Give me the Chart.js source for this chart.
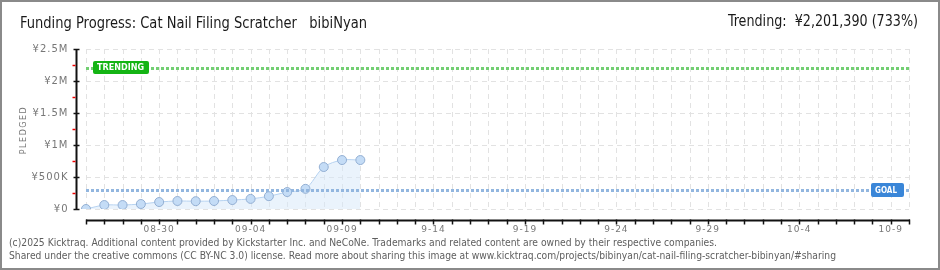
<!DOCTYPE html>
<html>
<head>
<meta charset="utf-8">
<script src="https://cdn.jsdelivr.net/npm/chart.js@4.4.1/dist/chart.umd.min.js"></script>
<style>
  html, body { margin: 0; padding: 0; background: #fff; }
  #wrap { position: relative; width: 940px; height: 270px; overflow: hidden; background: #fff; }
  #frame { position: absolute; left: 0; top: 0; width: 936px; height: 266px; border: 2px solid #8a8a8a; pointer-events: none; }
  canvas { position: absolute; left: 0; top: 0; }
  .txt { position: absolute; white-space: nowrap; transform-origin: left top; }
  #title { left: 20px; top: 13px; font: 16px "Liberation Sans Narrow", "DejaVu Sans Condensed", sans-serif; color: #1a1a1a; }
  #trend { left: 728px; top: 11px; font: 16px "Liberation Sans Narrow", "DejaVu Sans Condensed", sans-serif; color: #1a1a1a; }
  .foot { left: 9px; font: 10px "DejaVu Sans", sans-serif; color: #5e5e5e; }
  #foot1 { top: 237px; }
  #foot2 { top: 250px; }
</style>
</head>
<body>
<div id="wrap">
  <canvas id="c" width="940" height="270"></canvas>
  <div id="title" class="txt">Funding Progress: Cat Nail Filing Scratcher&nbsp;&nbsp;&nbsp;bibiNyan</div>
  <div id="trend" class="txt">Trending:&nbsp; ¥2,201,390 (733%)</div>
  <div id="foot1" class="txt foot">(c)2025 Kicktraq. Additional content provided by Kickstarter Inc. and NeCoNe. Trademarks and related content are owned by their respective companies.</div>
  <div id="foot2" class="txt foot">Shared under the creative commons (CC BY-NC 3.0) license. Read more about sharing this image at www.kicktraq.com/projects/bibinyan/cat-nail-filing-scratcher-bibinyan/#sharing</div>
  <div id="frame"></div>
</div>
<script>
// ---- data ----
const days = ['08-26','08-27','08-28','08-29','08-30','08-31','09-01','09-02','09-03','09-04',
  '09-05','09-06','09-07','09-08','09-09','09-10','09-11','09-12','09-13','09-14',
  '09-15','09-16','09-17','09-18','09-19','09-20','09-21','09-22','09-23','09-24',
  '09-25','09-26','09-27','09-28','09-29','09-30','10-01','10-02','10-03','10-04',
  '10-05','10-06','10-07','10-08','10-09','10-10'];
const pledged = [0, 62000, 62000, 78000, 109000, 125000, 122000, 125000, 140000, 158000,
  200000, 265000, 315000, 656000, 765000, 765000];
const xTickDays = ['08-30','09-04','09-09','09-14','09-19','09-24','09-29','10-04','10-09'];
const xTickLabels = ['08-30','09-04','09-09','9-14','9-19','9-24','9-29','10-4','10-9'];
const yTickValues = [0, 500000, 1000000, 1500000, 2000000, 2500000];
const yTickLabels = ['¥0','¥500K','¥1M','¥1.5M','¥2M','¥2.5M'];
const yMinorValues = [250000, 750000, 1250000, 1750000, 2250000];
const goal = 300000;
const trending = 2201390;

// ---- fit header/footer text widths ----
function fit(id, w) {
  const el = document.getElementById(id);
  const r = el.getBoundingClientRect().width;
  el.style.transform = 'scaleX(' + (w / r) + ')';
}
fit('title', 347); fit('trend', 190); fit('foot1', 708); fit('foot2', 827);

function dashedLine(ctx, x1, y1, x2, y2, color, width, dash) {
  ctx.save();
  ctx.strokeStyle = color; ctx.lineWidth = width; ctx.setLineDash(dash);
  ctx.beginPath(); ctx.moveTo(x1, y1); ctx.lineTo(x2, y2); ctx.stroke();
  ctx.restore();
}
function roundRect(ctx, x, y, w, h, r, color) {
  ctx.save(); ctx.fillStyle = color; ctx.beginPath();
  ctx.roundRect(x, y, w, h, r); ctx.fill(); ctx.restore();
}

const gridPlugin = {
  id: 'kgrid',
  beforeDatasetsDraw(chart) {
    const { ctx, chartArea: a, scales: { x, y } } = chart;
    const top = y.getPixelForValue(2500000), bot = y.getPixelForValue(0);
    for (let i = 0; i < days.length; i++) {
      const px = Math.round(x.getPixelForValue(i)) + 0.5;
      dashedLine(ctx, px, top, px, bot, '#e2e2e2', 1, [5, 4]);
    }
    yTickValues.forEach(v => {
      const py = Math.round(y.getPixelForValue(v)) + 0.5;
      dashedLine(ctx, a.left, py, a.right, py, '#e2e2e2', 1, [5, 4]);
    });
  },
  afterDatasetsDraw(chart) {
    const { ctx, chartArea: a, scales: { x, y } } = chart;
    // goal & trending lines
    const gy = Math.round(y.getPixelForValue(goal));
    const ty = Math.round(y.getPixelForValue(trending));
    dashedLine(ctx, a.left, gy + 0.5, a.right, gy + 0.5, '#92b6df', 3, [3, 2]);
    dashedLine(ctx, a.left, ty + 0.5, a.right, ty + 0.5, '#72cf72', 3, [3, 2]);
    // labels
    ctx.save();
    roundRect(ctx, a.left + 7, ty - 7, 56, 13, 2, '#14b414');
    roundRect(ctx, a.right - 38, gy - 7, 33, 14, 2, '#3a86d8');
    ctx.fillStyle = '#fff'; ctx.font = 'bold 9px "DejaVu Sans"'; ctx.textBaseline = 'middle';
    ctx.textAlign = 'left';
    ctx.fillText('TRENDING', a.left + 11, ty, 47);
    ctx.fillText('GOAL', a.right - 34, gy + 0.5, 22);
    ctx.restore();

    // y axis
    const axX = Math.round(a.left - 10) + 0.5;
    const yTop = y.getPixelForValue(2500000), yBot = y.getPixelForValue(0);
    ctx.save();
    ctx.strokeStyle = '#111'; ctx.lineWidth = 2;
    ctx.beginPath(); ctx.moveTo(axX, yTop); ctx.lineTo(axX, yBot + 1); ctx.stroke();
    ctx.lineWidth = 1.5;
    yTickValues.forEach(v => {
      const py = Math.round(y.getPixelForValue(v)) + 0.5;
      ctx.beginPath(); ctx.moveTo(axX - 3, py); ctx.lineTo(axX + 3, py); ctx.stroke();
    });
    ctx.strokeStyle = '#ee0000'; ctx.lineWidth = 1.5;
    yMinorValues.forEach(v => {
      const py = Math.round(y.getPixelForValue(v)) + 0.5;
      ctx.beginPath(); ctx.moveTo(axX - 4, py); ctx.lineTo(axX - 1, py); ctx.stroke();
    });
    ctx.fillStyle = '#777'; ctx.font = '10px "DejaVu Sans"'; ctx.letterSpacing = '1px';
    ctx.textAlign = 'right'; ctx.textBaseline = 'middle';
    yTickValues.forEach((v, i) => {
      ctx.fillText(yTickLabels[i], axX - 8, y.getPixelForValue(v) + 0.5);
    });
    // y title
    ctx.translate(24, 130); ctx.rotate(-Math.PI / 2);
    ctx.font = '8px "DejaVu Sans"'; ctx.letterSpacing = '1.5px'; ctx.textAlign = 'center';
    ctx.fillText('PLEDGED', 0, 0);
    ctx.restore();

    // x axis
    const axY = Math.round(yBot + 11) + 0.5;
    ctx.save();
    ctx.strokeStyle = '#111'; ctx.lineWidth = 2;
    ctx.beginPath(); ctx.moveTo(x.getPixelForValue(0), axY); ctx.lineTo(x.getPixelForValue(days.length - 1) + 1, axY); ctx.stroke();
    ctx.lineWidth = 1.5;
    for (let i = 0; i < days.length; i++) {
      const px = Math.round(x.getPixelForValue(i)) + 0.5;
      ctx.beginPath(); ctx.moveTo(px, axY - 1); ctx.lineTo(px, axY + 4); ctx.stroke();
    }
    ctx.fillStyle = '#777'; ctx.font = '9px "DejaVu Sans"'; ctx.letterSpacing = '1px';
    ctx.textAlign = 'center'; ctx.textBaseline = 'middle';
    xTickDays.forEach((d, k) => {
      const i = days.indexOf(d);
      ctx.fillText(xTickLabels[k], x.getPixelForValue(i), axY + 9);
    });
    ctx.restore();
  }
};

new Chart(document.getElementById('c'), {
  type: 'line',
  data: {
    labels: days,
    datasets: [{
      data: pledged,
      borderColor: '#b7d3f1',
      borderWidth: 1,
      backgroundColor: 'rgba(214,231,250,0.5)',
      fill: 'origin',
      tension: 0.3,
      pointRadius: 4.5,
      pointBackgroundColor: '#c4dcf6',
      pointBorderColor: '#93afd3',
      pointBorderWidth: 1
    }]
  },
  options: {
    responsive: false,
    animation: false,
    layout: { padding: { left: 86, right: 31, top: 49, bottom: 61 } },
    plugins: { legend: { display: false }, tooltip: { enabled: false }, title: { display: false } },
    scales: {
      x: { type: 'category', display: false, offset: false },
      y: { display: false, min: 0, max: 2500000 }
    }
  },
  plugins: [gridPlugin]
});
</script>
</body>
</html>
